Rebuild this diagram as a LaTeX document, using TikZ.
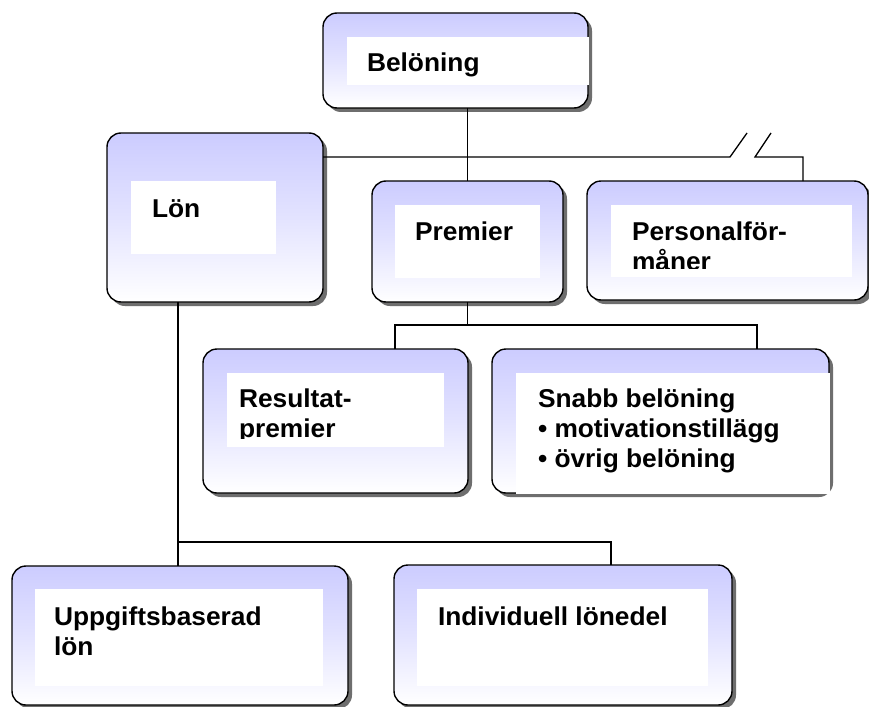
\documentclass[tikz,border=0pt]{standalone}
\usepackage{fontspec}
\setmainfont{Liberation Sans}[FakeStretch=1.02]
\usetikzlibrary{shadows}
\definecolor{lav}{RGB}{204,204,255}
\definecolor{shd}{RGB}{110,110,110}
\tikzset{
  box/.style={draw=black, line width=1.4pt, rounded corners=14pt,
    top color=lav, bottom color=white, middle color=lav!55, anchor=north west,
    inner sep=0pt, outer sep=0pt,
    drop shadow={shadow xshift=4pt, shadow yshift=-4pt, fill=shd, opacity=1}},
  whitebox/.style={fill=white, draw=none, anchor=north west, inner sep=0pt, outer sep=0pt},
  lbl/.style={anchor=base west, inner sep=0pt, outer sep=0pt, align=left,
    font=\bfseries\fontsize{25.8}{30}\selectfont},
  conn/.style={draw=black, line width=1.3pt}
}
\begin{document}
\begin{tikzpicture}[x=1pt, y=-1pt]
\useasboundingbox (0,0) rectangle (869,706);
\fill[white] (0,0) rectangle (869,706);

% junction coordinates
\coordinate (j1) at (467,157);
\coordinate (brkA) at (730,157);
\coordinate (brkAt) at (747,133);
\coordinate (brkB) at (755,157);
\coordinate (brkBt) at (771,133);
\coordinate (pj) at (803,157);
\coordinate (j2l) at (395,325);
\coordinate (j2r) at (757,325);
\coordinate (j3l) at (178,542);
\coordinate (j3r) at (611,542);

% boxes (nodes)
\node[box, minimum width=265pt, minimum height=95pt] (bel) at (323,13) {};
\node[box, minimum width=216pt, minimum height=169pt] (lon) at (107,133) {};
\node[box, minimum width=191pt, minimum height=121pt] (prem) at (372,181) {};
\node[box, minimum width=281pt, minimum height=119pt] (pers) at (587,181) {};
\node[box, minimum width=265pt, minimum height=144pt] (res) at (203,349) {};
\node[box, minimum width=337pt, minimum height=144pt] (snabb) at (492,349) {};
\node[box, minimum width=336pt, minimum height=139pt] (uppg) at (12,566) {};
\node[box, minimum width=338pt, minimum height=140pt] (indiv) at (394,565) {};

% connectors
\draw[conn] (bel.south -| prem.north) -- (prem.north);
\draw[conn] (lon.east |- j1) -- (brkA) -- (brkAt);
\draw[conn] (brkBt) -- (brkB) -- (pj) -- (pj |- pers.north);
\draw[conn] (prem.south) -- (prem.south |- j2l);
\draw[conn] (j2l |- res.north) -- (j2l) -- (j2r) -- (j2r |- snabb.north);
\draw[conn] (j3l |- lon.south) -- (j3l |- uppg.north);
\draw[conn] (j3l) -- (j3r) -- (j3r |- indiv.north);

% white text frames
\node[whitebox, minimum width=242pt, minimum height=48pt] (belw) at (347,37) {};
\node[whitebox, minimum width=145pt, minimum height=73pt] (lonw) at (131,181) {};
\node[whitebox, minimum width=145pt, minimum height=73pt] (premw) at (395,205) {};
\node[whitebox, minimum width=241pt, minimum height=72pt] (persw) at (611,205) {};
\node[whitebox, minimum width=217pt, minimum height=74pt] (resw) at (227,373) {};
\node[whitebox, minimum width=314pt, minimum height=121pt] (snabbw) at (516,373) {};
\node[whitebox, minimum width=288pt, minimum height=97pt] (uppgw) at (35,589) {};
\node[whitebox, minimum width=291pt, minimum height=97pt] (indivw) at (417,589) {};

% texts (base anchor = baseline of last line)
\node[lbl] (belt) at (367,72) {Belöning};
\node[lbl] (lont) at (152,217) {Lön};
\node[lbl] (premt) at (415,240) {Premier};
\begin{scope}
  \clip (611,205) rectangle (852,268);
  \node[lbl] (perst) at (632,270) {Personalför-\\måner};
\end{scope}
\begin{scope}
  \clip (227,373) rectangle (444,438);
  \node[lbl] (rest) at (239,437) {Resultat-\\premier};
\end{scope}
\node[lbl] (snabbt) at (538,467) {Snabb belöning\\• motivationstillägg\\• övrig belöning};
\node[lbl] (uppgt) at (54,655) {Uppgiftsbaserad\\lön};
\node[lbl] (indivt) at (438,625) {Individuell lönedel};
\end{tikzpicture}
\end{document}
